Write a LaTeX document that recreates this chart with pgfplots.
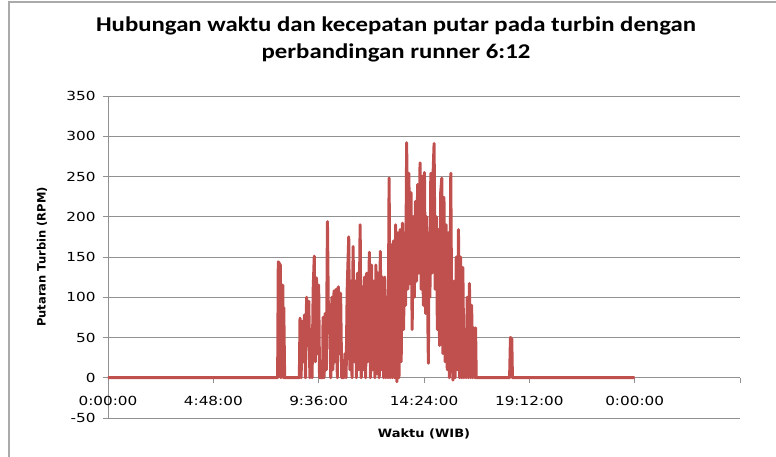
\documentclass[border=0pt]{standalone}
\usepackage{pgfplots}
\pgfplotsset{compat=1.18}
\usepackage{fontspec}
\setmainfont{DejaVu Sans}
\newfontfamily\tickfont{DejaVu Sans}[FakeStretch=1.22]
\newfontfamily\labfont{DejaVu Sans}[FakeStretch=1.13]
\newfontfamily\titlefont{Carlito}[FakeStretch=1.18]
\definecolor{exred}{RGB}{192,80,77}
\definecolor{gridgray}{RGB}{145,145,145}
\definecolor{framegray}{RGB}{170,170,170}
\begin{document}
\begin{tikzpicture}[x=1pt,y=1pt]
\useasboundingbox (-108,-39) rectangle (668,418);
\draw[framegray, line width=1.5pt] (-99,-39) -- (-99,416) -- (668,416);
\begin{axis}[at={(0,0)}, anchor=south west, scale only axis,
 width=632pt, height=322pt,
 xmin=0, xmax=28.8, ymin=-50, ymax=350,
 axis x line=middle, axis y line=left,
 hide obscured x ticks=false, hide obscured y ticks=false,
 xtick={0,4.8,9.6,14.4,19.2,24,28.8},
 xticklabels={0:00:00,4:48:00,9:36:00,14:24:00,19:12:00,0:00:00,{}},
 ytick={-50,0,50,100,150,200,250,300,350},
 ymajorgrids, grid style={gridgray, line width=0.8pt},
 axis line style={gridgray, line width=0.8pt, -},
 tick style={gridgray, line width=0.8pt},
 tick align=outside, major tick length=5pt,
 /pgf/number format/assume math mode=true,
 tick label style={font=\tickfont\fontsize{12.5}{14}\selectfont, black},
 xticklabel style={yshift=-10pt},
 yticklabel style={xshift=-4pt},
 xlabel={Waktu (WIB)}, ylabel={Putaran Turbin (RPM)},
 xlabel style={at={(axis description cs:0.5,0)}, anchor=north, yshift=-7pt, font=\labfont\bfseries\fontsize{11.5}{13}\selectfont},
 ylabel style={at={(axis description cs:-0.1044,0.5)}, anchor=center, rotate=0, font=\bfseries\fontsize{11.5}{13}\selectfont},
]
\addplot[exred, line width=3pt, line join=round] coordinates {
(0,0) (7.73,0) (7.76,144) (7.85,140) (7.88,0) (7.90,115) (7.97,115) (7.99,0) (8.01,87) (8.05,0)
(8.72,0) (8.75,74) (8.80,0) (8.85,70) (8.90,20) (8.95,78) (9.00,0) (9.05,100) (9.10,40)
(9.15,95) (9.20,0) (9.25,60) (9.30,0) (9.35,110) (9.40,151) (9.45,20) (9.50,124) (9.55,30)
(9.60,115) (9.64,0) (9.78,0)
(9.80,75) (9.85,0) (9.90,80) (9.95,10) (10.00,194) (10.05,60) (10.10,80) (10.15,0) (10.20,100)
(10.25,10) (10.30,108) (10.35,20) (10.40,110) (10.45,0) (10.50,113) (10.55,30) (10.60,105)
(10.65,0) (10.75,0) (10.80,30) (10.85,0) (10.90,110) (10.97,175) (11.02,10) (11.07,120)
(11.12,0) (11.17,163) (11.22,20) (11.27,120) (11.32,0) (11.37,130) (11.42,10) (11.49,190)
(11.54,0) (11.59,113) (11.64,10) (11.69,125) (11.74,0) (11.79,130) (11.84,20) (11.91,156)
(11.96,0) (12.01,140) (12.06,10) (12.11,120) (12.16,0) (12.21,140) (12.26,5) (12.31,130)
(12.36,0) (12.41,157) (12.46,10) (12.51,125) (12.56,0) (12.61,125) (12.66,0) (12.71,100)
(12.76,0) (12.81,248) (12.86,0) (12.91,165) (12.96,0) (13.01,170) (13.06,0) (13.11,190)
(13.16,-5) (13.21,180) (13.26,0) (13.31,184) (13.36,20) (13.42,192) (13.47,60) (13.52,180)
(13.56,90) (13.61,292) (13.66,110) (13.71,254) (13.76,117) (13.81,230) (13.86,60) (13.91,200)
(13.96,100) (14.01,219) (14.06,120) (14.11,240) (14.16,130) (14.22,267) (14.27,110) (14.32,250)
(14.37,90) (14.42,255) (14.47,80) (14.52,200) (14.57,80) (14.60,18) (14.63,180) (14.67,100)
(14.71,254) (14.76,130) (14.81,250) (14.86,291) (14.91,110) (14.96,200) (15.01,60) (15.06,184)
(15.11,40) (15.16,230) (15.21,248) (15.26,30) (15.31,224) (15.36,20) (15.41,190) (15.46,10)
(15.51,180) (15.56,0) (15.62,254) (15.67,40) (15.72,-3) (15.77,120) (15.82,0) (15.87,150)
(15.92,10) (15.97,184) (16.02,0) (16.07,150) (16.12,0) (16.17,137) (16.22,0) (16.27,60)
(16.32,0) (16.37,100) (16.42,0) (16.47,117) (16.52,0) (16.57,90) (16.62,0) (16.67,62)
(16.72,0) (16.75,62) (16.78,0)
(18.30,0) (18.34,50) (18.40,48) (18.43,0) (24,0)
};
\end{axis}
\node[font=\titlefont\bfseries\fontsize{21}{27}\selectfont, align=center] at (288,379) {Hubungan waktu dan kecepatan putar pada turbin dengan\\perbandingan runner 6:12};
\end{tikzpicture}
\end{document}
